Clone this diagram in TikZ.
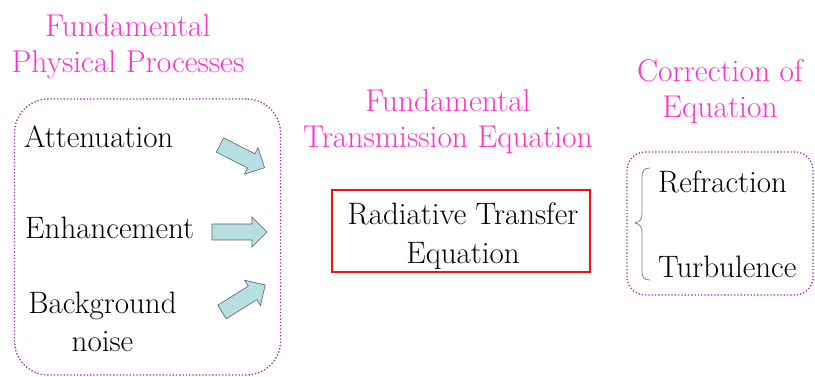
\documentclass[tikz,border=0pt]{standalone}
\definecolor{titlemag}{RGB}{255,51,204}
\definecolor{dotpurple}{RGB}{160,40,180}
\definecolor{arrowfill}{RGB}{183,222,226}
\definecolor{arrowline}{RGB}{90,100,100}
\definecolor{boxred}{RGB}{235,20,20}
\tikzset{
  title/.style={text=titlemag, inner sep=0pt, align=center, anchor=base,
    font=\fontsize{31.5}{36}\selectfont},
  body/.style={text=black, inner sep=0pt, font=\fontsize{31}{38.5}\selectfont},
  dotbox/.style={draw=dotpurple, dotted, line width=1.3pt, inner sep=0pt},
  blockarrow/.style={draw=arrowline, fill=arrowfill, line width=0.6pt, line join=miter},
}
\newcommand{\blockarr}[1]{(0,-8) -- (#1-15,-8) -- (#1-15,-15) -- (#1,0) -- (#1-15,15) -- (#1-15,8) -- (0,8) -- cycle}
\begin{document}
\begin{tikzpicture}[x=1pt,y=-1pt]
\useasboundingbox (0,0) rectangle (815,377);
% titles
\node[title] (t1) at (128,73) {Fundamental\\Physical Processes};
\node[title] (t2) at (448,148) {Fundamental\\Transmission Equation};
\node[title] (t3) at (720,118) {Correction of\\Equation};
% left dotted box
\node[dotbox, rounded corners=34pt, minimum width=266pt, minimum height=276pt] (lbox) at (147.5,237) {};
\node[body, anchor=base west] (att) at (24,148) {Attenuation};
\node[body, anchor=base west] (enh) at (25,239) {Enhancement};
\node[body, anchor=base, align=center] (bg) at (102.5,352) {Background\\noise};
% block arrows
\draw[blockarrow, shift={(220,145)}, rotate=-27] \blockarr{50};
\draw[blockarrow, shift={(212,232)}] \blockarr{55};
\draw[blockarrow, shift={(222,312)}, rotate=32] \blockarr{51};
% red box
\node[draw=boxred, line width=1.4pt, minimum width=258pt, minimum height=82pt, inner sep=0pt] (rte) at (461,231) {};
\node[body, align=center, anchor=base] (rtetext) at (463,263) {Radiative Transfer\\Equation};
% right dotted box
\node[dotbox, rounded corners=18pt, minimum width=186pt, minimum height=143pt] (rbox) at (720,223.5) {};
\node[body, anchor=base west] (refr) at (658,193) {Refraction};
\node[body, anchor=base west] (turb) at (658,277) {Turbulence};
% brace
\draw[gray, line width=0.8pt] (650,168) .. controls (644,168) and (642,171) .. (642,177)
  -- (642,214) .. controls (642,219) and (640,222) .. (635,223)
  .. controls (640,224) and (642,227) .. (642,232)
  -- (642,272) .. controls (642,277) and (644,280) .. (650,280);
\end{tikzpicture}
\end{document}
